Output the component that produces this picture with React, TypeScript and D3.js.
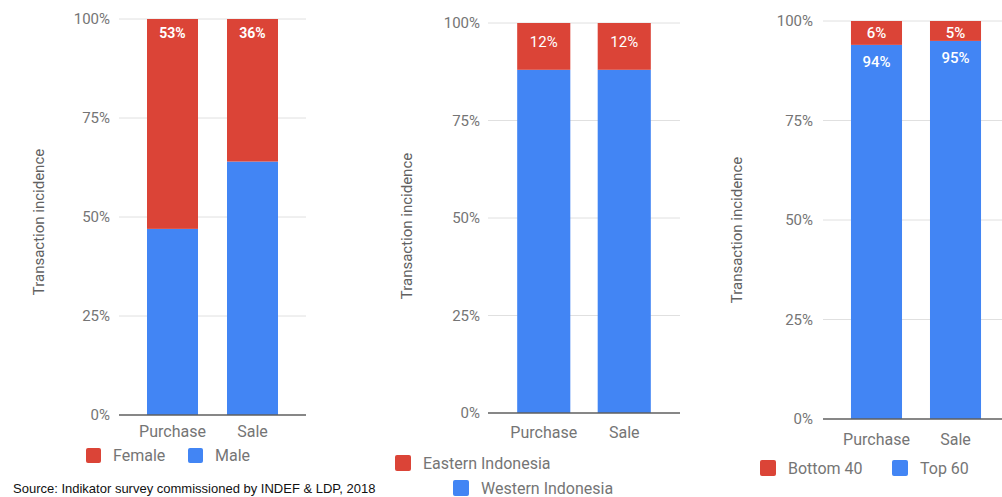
import React from "react";
import * as d3 from "d3";

// Transaction incidence by group, share of each transaction type (%)
const categories = ["Purchase", "Sale"];

const genderSeries = ["Female", "Male"];
const femaleValues = [53, 36];
const maleValues = [47, 64];

const regionSeries = ["Eastern Indonesia", "Western Indonesia"];
const easternValues = [12, 12];
const westernValues = [88, 88];

const incomeSeries = ["Bottom 40", "Top 60"];
const bottom40Values = [6, 5];
const top60Values = [94, 95];

const yTicks = [0, 25, 50, 75, 100];
const yTitle = "Transaction incidence";
const sourceNote = "Source: Indikator survey commissioned by INDEF & LDP, 2018";

const RED = "#db4437";
const BLUE = "#4285f4";
const GRID = "#e0e0e0";
const AXIS = "#5f5f5f";
const TEXT = "#757575";
const FONT = "Roboto, 'Noto Sans', Arial, sans-serif";

type Legend = { x: number; y: number; size: number }[];

type Panel = {
  series: string[];
  top: number[]; // red segment, stacked on top
  bottom: number[]; // blue segment
  showTopLabel: boolean;
  showBottomLabel: boolean;
  layout: {
    x0: number;
    x1: number;
    y0: number; // 0%
    y1: number; // 100%
    pi: number;
    po: number;
    tickGap: number;
    catGap: number;
    titleX: number;
    titleY: number;
    topLabelDy: number;
    bottomLabelDy: number;
    labelWeight: number;
    labelSize: number;
    legend: Legend;
  };
};

const panels: Panel[] = [
  {
    series: genderSeries,
    top: femaleValues,
    bottom: maleValues,
    showTopLabel: true,
    showBottomLabel: false,
    layout: {
      x0: 119, x1: 306, y0: 415, y1: 19, pi: 0.3625, po: 0.35,
      tickGap: 9, catGap: 16, titleX: 39, titleY: 222,
      topLabelDy: 14, bottomLabelDy: 0, labelWeight: 700, labelSize: 14,
      legend: [
        { x: 86, y: 448, size: 15 },
        { x: 188, y: 448, size: 15 },
      ],
    },
  },
  {
    series: regionSeries,
    top: easternValues,
    bottom: westernValues,
    showTopLabel: true,
    showBottomLabel: false,
    layout: {
      x0: 488, x1: 680, y0: 413, y1: 23, pi: 0.34, po: 0.3625,
      tickGap: 8, catGap: 19, titleX: 407, titleY: 226,
      topLabelDy: 19, bottomLabelDy: 0, labelWeight: 400, labelSize: 15,
      legend: [
        { x: 395, y: 455, size: 16 },
        { x: 453, y: 480, size: 16 },
      ],
    },
  },
  {
    series: incomeSeries,
    top: bottom40Values,
    bottom: top60Values,
    showTopLabel: true,
    showBottomLabel: true,
    layout: {
      x0: 823, x1: 1009, y0: 419, y1: 21, pi: 0.354, po: 0.354,
      tickGap: 10, catGap: 20, titleX: 737, titleY: 230,
      topLabelDy: 12, bottomLabelDy: 17, labelWeight: 500, labelSize: 15,
      legend: [
        { x: 760, y: 460, size: 16 },
        { x: 892, y: 460, size: 16 },
      ],
    },
  },
];

function StackedPanel({ panel }: { panel: Panel }) {
  const L = panel.layout;
  const x = d3.scaleBand<string>().domain(categories).range([L.x0, L.x1])
    .paddingInner(L.pi).paddingOuter(L.po);
  const y = d3.scaleLinear().domain([0, 100]).range([L.y0, L.y1]);
  const fmt = (v: number) => `${v}%`;

  return (
    <g>
      {yTicks.filter((t) => t > 0).map((t) => (
        <line key={`g${t}`} x1={L.x0} x2={L.x1} y1={y(t)} y2={y(t)} stroke={GRID} strokeWidth={1} />
      ))}
      {yTicks.map((t) => (
        <text key={`t${t}`} x={L.x0 - L.tickGap} y={y(t)} dy="0.35em" textAnchor="end"
          fontSize={15} fill={TEXT} fontFamily={FONT}>{fmt(t)}</text>
      ))}
      {categories.map((c, i) => {
        const bx = x(c)!;
        const bw = x.bandwidth();
        const bTop = y(panel.bottom[i]);
        const total = y(panel.bottom[i] + panel.top[i]);
        return (
          <g key={c}>
            <rect x={bx} y={bTop} width={bw} height={y(0) - bTop} fill={BLUE} />
            <rect x={bx} y={total} width={bw} height={bTop - total} fill={RED} />
            {panel.showTopLabel && (
              <text x={bx + bw / 2} y={total + L.topLabelDy} dy="0.35em" textAnchor="middle"
                fontSize={L.labelSize} fontWeight={L.labelWeight} fill="#ffffff" fontFamily={FONT}>
                {fmt(panel.top[i])}
              </text>
            )}
            {panel.showBottomLabel && (
              <text x={bx + bw / 2} y={bTop + L.bottomLabelDy} dy="0.35em" textAnchor="middle"
                fontSize={L.labelSize} fontWeight={L.labelWeight} fill="#ffffff" fontFamily={FONT}>
                {fmt(panel.bottom[i])}
              </text>
            )}
            <text x={bx + bw / 2} y={L.y0 + L.catGap} dy="0.35em" textAnchor="middle"
              fontSize={16} fill={TEXT} fontFamily={FONT}>{c}</text>
          </g>
        );
      })}
      <line x1={L.x0} x2={L.x1} y1={y(0)} y2={y(0)} stroke={AXIS} strokeWidth={1.5} />
      <text transform={`translate(${L.titleX},${L.titleY}) rotate(-90)`} textAnchor="middle"
        dy="0.35em" fontSize={15} fill="#616161" fontFamily={FONT}>{yTitle}</text>
      {panel.series.map((s, i) => {
        const lg = L.legend[i];
        return (
          <g key={s}>
            <rect x={lg.x} y={lg.y} width={lg.size} height={lg.size} rx={2}
              fill={i === 0 ? RED : BLUE} />
            <text x={lg.x + lg.size + 12} y={lg.y + lg.size / 2} dy="0.35em"
              fontSize={16} fill={TEXT} fontFamily={FONT}>{s}</text>
          </g>
        );
      })}
    </g>
  );
}

export default function App() {
  return (
    <svg width={1002} height={497} style={{ position: "absolute", left: 0, top: 0, background: "#fff" }}>
      <rect width={1002} height={497} fill="#ffffff" />
      {panels.map((p, i) => <StackedPanel key={i} panel={p} />)}
      <text x={13} y={488} dy="0.35em" fontSize={13} fill="#111" fontFamily="'Liberation Sans', Arial, sans-serif">
        {sourceNote}
      </text>
    </svg>
  );
}
